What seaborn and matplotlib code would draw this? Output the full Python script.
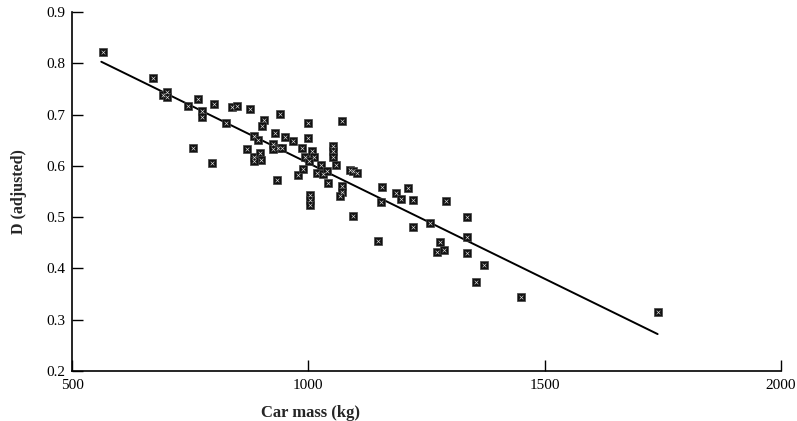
import matplotlib
matplotlib.use("Agg")
import matplotlib.pyplot as plt
import seaborn as sns
import pandas as pd

car_mass = [565, 671, 692, 700, 700, 746, 767, 774, 774, 757, 801, 796, 826, 838, 850, 877,
            907, 901, 940, 884, 894, 870, 929, 951, 968, 926, 936, 926, 944,
            886, 898, 899, 885, 986, 1000, 999, 1071, 1052, 1052, 1052,
            993, 1007, 1011, 1002, 1026, 1058, 979, 989, 1018, 1032, 1039,
            1088, 1095, 1102, 933, 1042, 1071, 1071, 1067, 1004, 1004, 1004, 1095,
            1156, 1154, 1185, 1195, 1211, 1222, 1291, 1257, 1222, 1147,
            1335, 1335, 1279, 1272, 1286, 1335, 1372, 1355, 1449, 1739]
d_adjusted = [0.822, 0.771, 0.738, 0.744, 0.734, 0.717, 0.730, 0.706, 0.696, 0.635, 0.721, 0.606, 0.683, 0.715, 0.716, 0.711,
              0.689, 0.678, 0.701, 0.659, 0.651, 0.633, 0.665, 0.657, 0.649, 0.643, 0.635, 0.632, 0.635,
              0.618, 0.625, 0.612, 0.609, 0.635, 0.683, 0.654, 0.687, 0.638, 0.628, 0.618,
              0.618, 0.628, 0.618, 0.609, 0.602, 0.602, 0.583, 0.593, 0.586, 0.585, 0.589,
              0.591, 0.589, 0.587, 0.573, 0.567, 0.560, 0.550, 0.541, 0.544, 0.534, 0.524, 0.503,
              0.558, 0.529, 0.548, 0.536, 0.557, 0.533, 0.531, 0.489, 0.480, 0.454,
              0.501, 0.461, 0.452, 0.432, 0.436, 0.430, 0.406, 0.374, 0.344, 0.315]

fit_mass = [562, 1739]
fit_d = [0.803, 0.272]

x_ticks = [500, 1000, 1500, 2000]
y_ticks = [0.2, 0.3, 0.4, 0.5, 0.6, 0.7, 0.8, 0.9]

df = pd.DataFrame({"mass": car_mass, "d": d_adjusted})
fit = pd.DataFrame({"mass": fit_mass, "d": fit_d})

sns.set_style("ticks")
plt.rcParams["font.family"] = ["Liberation Serif", "DejaVu Serif"]

fig = plt.figure(figsize=(7.97, 4.21), dpi=100)
ax = fig.add_axes([72/797, 1 - 371/421, 709/797, 359/421])

sns.lineplot(data=fit, x="mass", y="d", ax=ax, color="black", linewidth=1.4)
sns.scatterplot(data=df, x="mass", y="d", ax=ax, marker="s", s=38,
                color="#111111", edgecolor="#444444", linewidth=0.5, zorder=3)
sns.scatterplot(data=df, x="mass", y="d", ax=ax, marker="x", s=7,
                color="#dddddd", linewidth=0.45, zorder=4)

ax.set_xlim(500, 2000)
ax.set_ylim(0.2, 0.9)
ax.set_xticks(x_ticks)
ax.set_yticks(y_ticks)
ax.set_xticklabels([str(v) for v in x_ticks])
ax.set_yticklabels([f"{v:.1f}" for v in y_ticks])
ax.tick_params(direction="in", length=8, width=1, labelsize=11, colors="black", pad=5)
ax.tick_params(axis="x", pad=6)
for s in ["top", "right"]:
    ax.spines[s].set_visible(False)
for s in ["left", "bottom"]:
    ax.spines[s].set_linewidth(1.2)
    ax.spines[s].set_color("black")

ax.set_xlabel("Car mass (kg)", fontsize=12, fontweight="bold")
ax.xaxis.set_label_coords(0.336, -0.095)
ax.set_ylabel("D (adjusted)", fontsize=11.5, fontweight="bold")
ax.yaxis.set_label_coords(-0.064, 0.5)

fig.savefig("out.png", dpi=100)
